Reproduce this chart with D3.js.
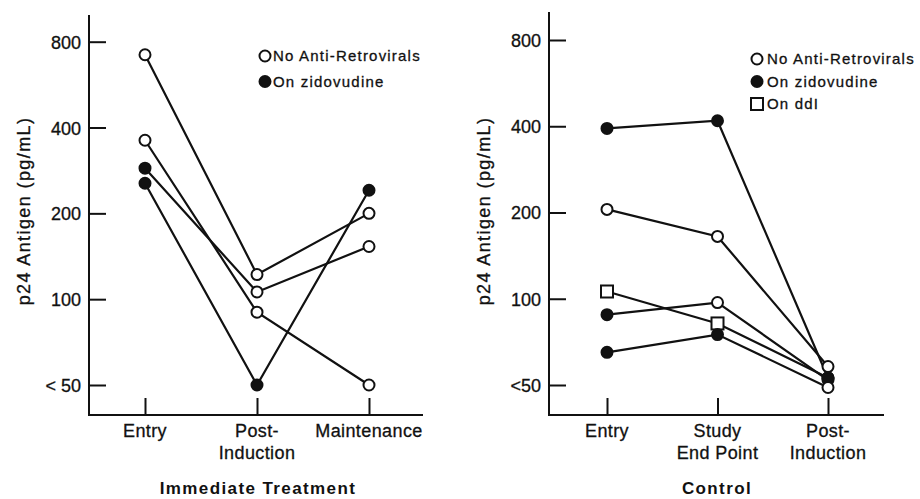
<!DOCTYPE html>
<html>
<head>
<meta charset="utf-8">
<script src="https://cdn.jsdelivr.net/npm/d3@7/dist/d3.min.js"></script>
<style>
  body { margin: 0; background: #fff; }
  svg { display: block; font-family: "Liberation Sans", Arial, sans-serif; }
  .tick text { font-size: 18px; fill: #111; stroke: #111; stroke-width: 0.3px; }
  .tick line { stroke: #111; stroke-width: 2; }
  .lbl { stroke: #111; stroke-width: 0.3px; }
</style>
</head>
<body>
<div id="chart"></div>
<script>
// values (pg/mL, log2 axis, "<50" plotted at 50)
var yTicks = [50, 100, 200, 400, 800];
var leftTickLabels = ["< 50", "100", "200", "400", "800"];
var rightTickLabels = ["<50", "100", "200", "400", "800"];

var leftCategories = [["Entry"], ["Post-", "Induction"], ["Maintenance"]];
var leftValues = [
	[720, 122, 200],
	[361, 90, 50],
	[288, 106, 153],
	[255, 50, 241]
];
var leftMarkers = [
	["open", "open", "open"],
	["open", "open", "open"],
	["filled", "open", "open"],
	["filled", "filled", "filled"]
];

var rightCategories = [["Entry"], ["Study", "End Point"], ["Post-", "Induction"]];
var rightValues = [
	[393, 418, 53],
	[205, 165, 58],
	[106, 82, 53],
	[88, 97, 52],
	[65, 75, 49]
];
var rightMarkers = [
	["filled", "filled", "filled"],
	["open", "open", "open"],
	["square", "square", "filled"],
	["filled", "open", "filled"],
	["filled", "filled", "open"]
];

var leftLegend = ["No Anti-Retrovirals", "On zidovudine"];
var leftLegendMarkers = ["open", "filled"];
var rightLegend = ["No Anti-Retrovirals", "On zidovudine", "On ddI"];
var rightLegendMarkers = ["open", "filled", "square"];

var yLabel = "p24 Antigen (pg/mL)";

(function(){
	var width = 920, height = 499;
	var ink = "#111";

	var svg = d3.select("#chart")
		.append("svg")
		.attr("width", width)
		.attr("height", height);

	function marker(g, type, x, y) {
		if (type === "square") {
			g.append("rect")
				.attr("x", x - 6).attr("y", y - 6)
				.attr("width", 12).attr("height", 12)
				.attr("fill", "#fff")
				.attr("stroke", ink)
				.attr("stroke-width", 2);
		} else {
			g.append("circle")
				.attr("cx", x).attr("cy", y)
				.attr("r", 5.5)
				.attr("fill", type === "filled" ? ink : "#fff")
				.attr("stroke", ink)
				.attr("stroke-width", 2);
		}
	}

	function panel(p) {
		var g = svg.append("g");

		var x = d3.scalePoint()
			.domain(p.categories.map(function(d){ return d.join(" "); }))
			.range(p.xRange);

		var y = d3.scaleLog().base(2)
			.domain([50, 800])
			.range(p.yRange);

		// y axis, ticks pointing inward
		var yAxis = d3.axisLeft(y)
			.tickValues(yTicks)
			.tickSizeInner(-17)
			.tickSizeOuter(0)
			.tickPadding(p.tickPad)
			.tickFormat(function(d, i){ return p.tickLabels[i]; });

		var ga = g.append("g")
			.attr("transform", "translate(" + p.axisX + ",0)")
			.call(yAxis);
		ga.select(".domain").remove();
		ga.selectAll("text").attr("dy", "0.36em");

		g.append("line")
			.attr("x1", p.axisX).attr("x2", p.axisX)
			.attr("y1", p.axisTop).attr("y2", p.axisY + 1)
			.attr("stroke", ink).attr("stroke-width", 2);

		// x axis
		var xAxis = d3.axisBottom(x)
			.tickSizeInner(-17)
			.tickSizeOuter(0)
			.tickFormat("");

		var gx = g.append("g")
			.attr("transform", "translate(0," + p.axisY + ")")
			.call(xAxis);
		gx.select(".domain").remove();

		g.append("line")
			.attr("x1", p.axisX).attr("x2", p.axisRight)
			.attr("y1", p.axisY).attr("y2", p.axisY)
			.attr("stroke", ink).attr("stroke-width", 2);

		p.categories.forEach(function(lines){
			var t = g.append("text")
				.attr("class", "lbl")
				.attr("text-anchor", "middle")
				.attr("font-size", 18)
				.attr("letter-spacing", 0.4)
				.attr("fill", ink);
			lines.forEach(function(s, i){
				t.append("tspan")
					.attr("x", x(lines.join(" ")))
					.attr("y", p.axisY + 22 + i * 22)
					.text(s);
			});
		});

		// y label
		g.append("text")
			.attr("class", "lbl")
			.attr("transform", "translate(" + p.labelX + ",211) rotate(-90)")
			.attr("text-anchor", "middle")
			.attr("font-size", 18)
			.attr("letter-spacing", 1.4)
			.attr("fill", ink)
			.text(yLabel);

		// title
		g.append("text")
			.attr("x", p.titleX)
			.attr("y", 494)
			.attr("text-anchor", "middle")
			.attr("font-size", 17)
			.attr("font-weight", "bold")
			.attr("letter-spacing", 1.4)
			.attr("fill", ink)
			.text(p.title);

		// lines
		var line = d3.line()
			.x(function(d, i){ return x(p.categories[i].join(" ")); })
			.y(function(d){ return y(d); });

		g.selectAll("path.series")
			.data(p.values)
			.enter().append("path")
			.attr("class", "series")
			.attr("d", line)
			.attr("fill", "none")
			.attr("stroke", ink)
			.attr("stroke-width", 2.2);

		p.values.forEach(function(s, si){
			s.forEach(function(v, i){
				marker(g, p.markers[si][i], x(p.categories[i].join(" ")), y(v));
			});
		});

		// legend
		p.legend.forEach(function(label, i){
			var cy = p.legendY + i * p.legendStep;
			marker(g, p.legendMarkers[i], p.legendX, cy);
			g.append("text")
				.attr("class", "lbl")
				.attr("x", p.legendX + p.legendGap)
				.attr("y", cy + 5)
				.attr("font-size", 15)
				.attr("letter-spacing", 1.2)
				.attr("fill", ink)
				.text(label);
		});
	}

	panel({
		categories: leftCategories,
		values: leftValues,
		markers: leftMarkers,
		tickLabels: leftTickLabels,
		xRange: [145, 369],
		yRange: [385, 41.7],
		axisX: 89, axisTop: 15, axisY: 415, axisRight: 423,
		tickPad: 8,
		labelX: 30,
		title: "Immediate Treatment", titleX: 258,
		legend: leftLegend, legendMarkers: leftLegendMarkers,
		legendX: 265, legendY: 56, legendStep: 25.5, legendGap: 8
	});

	panel({
		categories: rightCategories,
		values: rightValues,
		markers: rightMarkers,
		tickLabels: rightTickLabels,
		xRange: [607, 828],
		yRange: [385, 40],
		axisX: 549, axisTop: 12, axisY: 415, axisRight: 884,
		tickPad: 8,
		labelX: 490,
		title: "Control", titleX: 717,
		legend: rightLegend, legendMarkers: rightLegendMarkers,
		legendX: 757, legendY: 59, legendStep: 22.5, legendGap: 10
	});
})();
</script>
</body>
</html>
